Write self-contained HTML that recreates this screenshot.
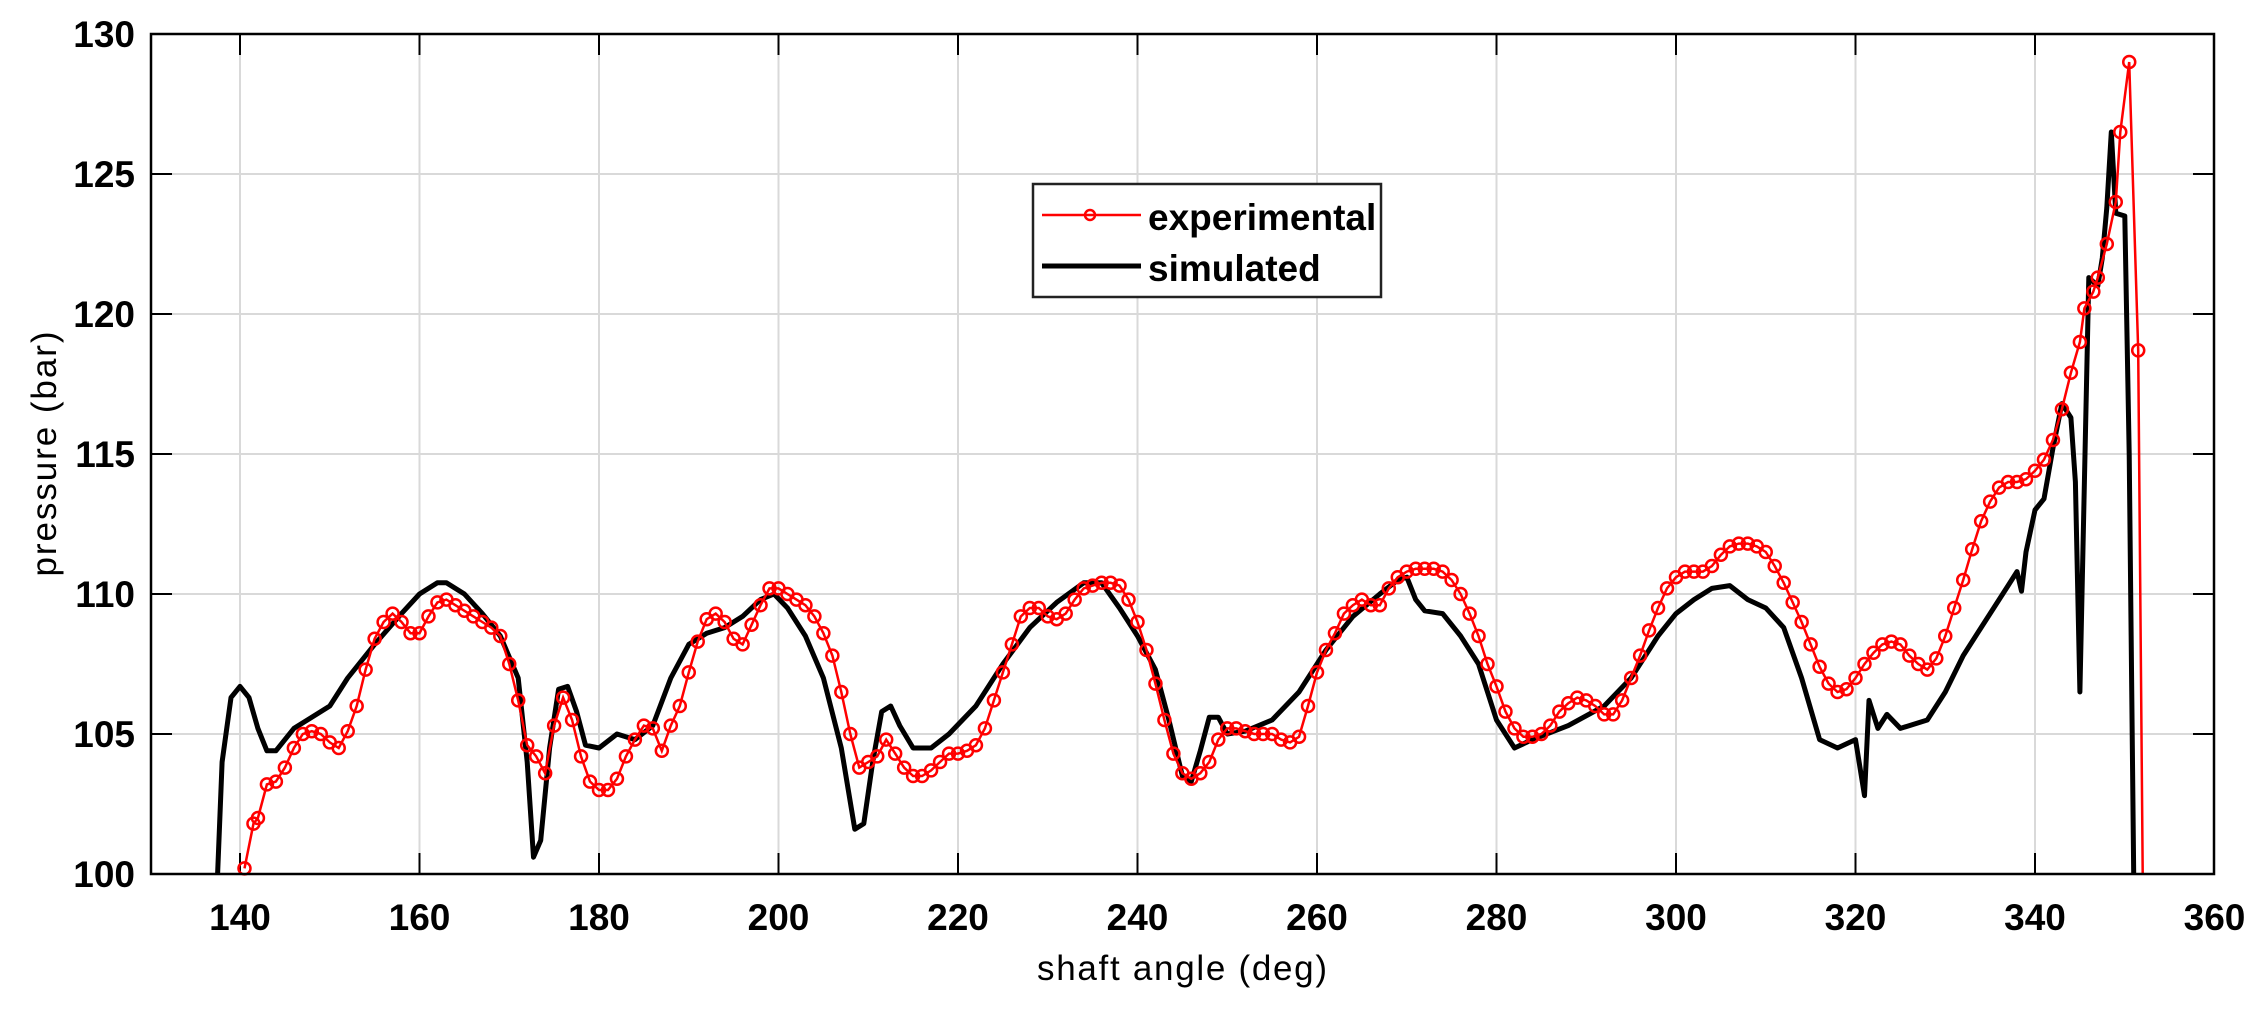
<!DOCTYPE html>
<html><head><meta charset="utf-8"><style>
html,body{margin:0;padding:0;background:#fff;}
svg{display:block;font-family:"Liberation Sans",Arial,sans-serif;}
</style></head><body>
<svg id="s" width="2267" height="1012" viewBox="0 0 2267 1012" xmlns="http://www.w3.org/2000/svg">
<rect width="2267" height="1012" fill="#fff"/>
<g id="grid" stroke="#d9d9d9" stroke-width="2"></g>
<g id="ticks" stroke="#000" stroke-width="2"></g>
<g id="labels" font-size="37" font-weight="bold" fill="#000"></g>
<polyline id="sim" fill="none" stroke="#000" stroke-width="5" stroke-linejoin="round"/>
<polyline id="exp" fill="none" stroke="#f00" stroke-width="2.5"/>
<g id="marks" fill="none" stroke="#f00" stroke-width="2.5"></g>
<rect x="151" y="34" width="2063" height="840" fill="none" stroke="#000" stroke-width="2.5"/>
<rect x="1033" y="184" width="348" height="113" fill="#fff" stroke="#222" stroke-width="2.5"/>
<line x1="1042" y1="215" x2="1141" y2="215" stroke="#f00" stroke-width="2.5"/>
<circle cx="1090" cy="215" r="5" fill="none" stroke="#f00" stroke-width="2.5"/>
<text x="1148" y="230" font-size="37" font-weight="bold">experimental</text>
<line x1="1042" y1="266" x2="1141" y2="266" stroke="#000" stroke-width="5"/>
<text x="1148" y="281" font-size="37" font-weight="bold">simulated</text>
<text x="1182" y="980" font-size="35" text-anchor="middle" textLength="290">shaft angle (deg)</text>
<text transform="translate(56,454) rotate(-90)" font-size="35" text-anchor="middle" textLength="245">pressure (bar)</text>
</svg>
<script>
var NS="http://www.w3.org/2000/svg";
function X(a){return 240+(a-140)*8.975;}
function Y(p){return 874-(p-100)*28;}
function el(t,at,par){var e=document.createElementNS(NS,t);for(var k in at)e.setAttribute(k,at[k]);document.getElementById(par).appendChild(e);return e;}
for(var a=140;a<=340;a+=20){el("line",{x1:X(a),y1:34,x2:X(a),y2:874},"grid");
 el("line",{x1:X(a),y1:874,x2:X(a),y2:853},"ticks");el("line",{x1:X(a),y1:34,x2:X(a),y2:55},"ticks");}
for(var p=105;p<=125;p+=5){el("line",{x1:151,y1:Y(p),x2:2214,y2:Y(p)},"grid");
 el("line",{x1:151,y1:Y(p),x2:172,y2:Y(p)},"ticks");el("line",{x1:2193,y1:Y(p),x2:2214,y2:Y(p)},"ticks");}
for(var a=140;a<=360;a+=20){var t=el("text",{x:X(a),y:930,"text-anchor":"middle"},"labels");t.textContent=a;}
for(var p=100;p<=130;p+=5){var t=el("text",{x:135,y:Y(p)+13,"text-anchor":"end"},"labels");t.textContent=p;}
var sim=[137.5,100,138,104,139,106.3,140,106.7,141,106.3,142,105.2,143,104.4,144,104.4,146,105.2,148,105.6,150,106.0,152,107.0,155,108.2,158,109.3,160,110.0,162,110.4,163,110.4,165,110.0,167,109.3,169,108.5,171,107.0,172,104.0,172.7,100.6,173.5,101.2,174.5,104.5,175.5,106.6,176.5,106.7,177.5,105.8,178.5,104.6,180,104.5,182,105.0,184,104.8,186,105.3,188,107.0,190,108.2,192,108.6,194,108.8,196,109.2,198,109.8,199.5,110.0,201,109.5,203,108.5,205,107.0,207,104.5,208.5,101.6,209.5,101.8,210.5,104.0,211.5,105.8,212.5,106.0,213.5,105.3,215,104.5,217,104.5,219,105.0,222,106.0,225,107.5,228,108.8,231,109.7,234,110.4,236,110.4,238,109.5,240,108.5,242,107.3,243.5,105.5,245,103.5,246,103.3,247,104.4,248,105.6,249,105.6,250,105.0,252,105.1,255,105.5,258,106.5,261,108.0,264,109.2,267,110.0,269,110.5,270,110.6,271,109.8,272,109.4,274,109.3,276,108.5,278,107.5,280,105.5,282,104.5,284,104.8,288,105.3,292,106.0,295,107.0,298,108.5,300,109.3,302,109.8,304,110.2,306,110.3,308,109.8,310,109.5,312,108.8,314,107.0,316,104.8,318,104.5,320,104.8,321,102.8,321.5,106.2,322.5,105.2,323.5,105.7,325,105.2,328,105.5,330,106.5,332,107.8,334,108.8,336,109.8,337,110.3,338,110.8,338.5,110.1,339,111.5,340,113.0,341,113.4,342,115.2,343,116.8,344,116.3,344.5,114.0,345,106.5,345.5,114.0,346,121.3,347,121.0,347.5,122.0,348,123.8,348.5,126.5,349,123.6,350,123.5,350.5,115,351,100];
var ex=[140.5,100.2,141.5,101.8,142,102,143,103.2,144,103.3,145,103.8,146,104.5,147,105,148,105.1,149,105,150,104.7,151,104.5,152,105.1,153,106.0,154,107.3,155,108.4,156,109.0,157,109.3,158,109.0,159,108.6,160,108.6,161,109.2,162,109.7,163,109.8,164,109.6,165,109.4,166,109.2,167,109.0,168,108.8,169,108.5,170,107.5,171,106.2,172,104.6,173,104.2,174,103.6,175,105.3,176,106.3,177,105.5,178,104.2,179,103.3,180,103.0,181,103.0,182,103.4,183,104.2,184,104.8,185,105.3,186,105.2,187,104.4,188,105.3,189,106.0,190,107.2,191,108.3,192,109.1,193,109.3,194,109.0,195,108.4,196,108.2,197,108.9,198,109.6,199,110.2,200,110.2,201,110.0,202,109.8,203,109.6,204,109.2,205,108.6,206,107.8,207,106.5,208,105.0,209,103.8,210,104.0,211,104.2,212,104.8,213,104.3,214,103.8,215,103.5,216,103.5,217,103.7,218,104.0,219,104.3,220,104.3,221,104.4,222,104.6,223,105.2,224,106.2,225,107.2,226,108.2,227,109.2,228,109.5,229,109.5,230,109.2,231,109.1,232,109.3,233,109.8,234,110.2,235,110.3,236,110.4,237,110.4,238,110.3,239,109.8,240,109.0,241,108.0,242,106.8,243,105.5,244,104.3,245,103.6,246,103.4,247,103.6,248,104.0,249,104.8,250,105.2,251,105.2,252,105.1,253,105.0,254,105.0,255,105.0,256,104.8,257,104.7,258,104.9,259,106.0,260,107.2,261,108.0,262,108.6,263,109.3,264,109.6,265,109.8,266,109.6,267,109.6,268,110.2,269,110.6,270,110.8,271,110.9,272,110.9,273,110.9,274,110.8,275,110.5,276,110.0,277,109.3,278,108.5,279,107.5,280,106.7,281,105.8,282,105.2,283,104.9,284,104.9,285,105.0,286,105.3,287,105.8,288,106.1,289,106.3,290,106.2,291,106.0,292,105.7,293,105.7,294,106.2,295,107.0,296,107.8,297,108.7,298,109.5,299,110.2,300,110.6,301,110.8,302,110.8,303,110.8,304,111.0,305,111.4,306,111.7,307,111.8,308,111.8,309,111.7,310,111.5,311,111.0,312,110.4,313,109.7,314,109.0,315,108.2,316,107.4,317,106.8,318,106.5,319,106.6,320,107.0,321,107.5,322,107.9,323,108.2,324,108.3,325,108.2,326,107.8,327,107.5,328,107.3,329,107.7,330,108.5,331,109.5,332,110.5,333,111.6,334,112.6,335,113.3,336,113.8,337,114.0,338,114.0,339,114.1,340,114.4,341,114.8,342,115.5,343,116.6,344,117.9,345,119.0,345.5,120.2,346.5,120.8,347,121.3,348,122.5,349,124.0,349.5,126.5,350.5,129.0,351.5,118.7,352,100];
function pts(d){var s=[];for(var i=0;i<d.length;i+=2)s.push(X(d[i]).toFixed(1)+","+Y(d[i+1]).toFixed(1));return s.join(" ");}
document.getElementById("sim").setAttribute("points",pts(sim));
document.getElementById("exp").setAttribute("points",pts(ex));
for(var i=0;i<ex.length-2;i+=2){el("circle",{cx:X(ex[i]),cy:Y(ex[i+1]),r:6},"marks");}
</script>
</body></html>
